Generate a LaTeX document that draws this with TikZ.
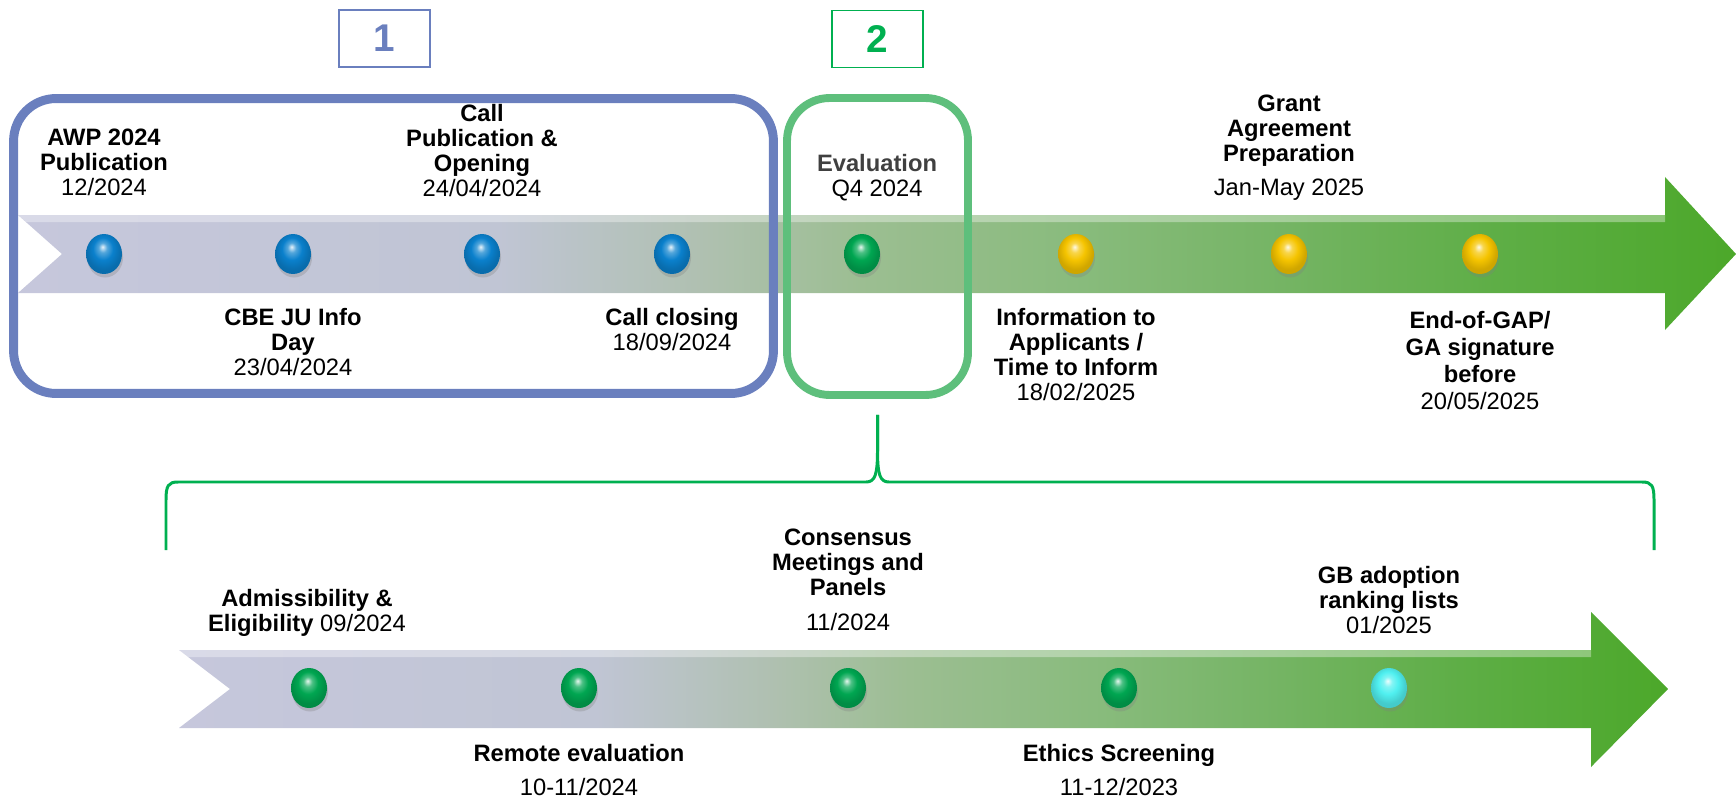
\documentclass[tikz,border=0pt]{standalone}
\usepackage{fontspec}
\setmainfont{Liberation Sans}
\usetikzlibrary{shapes.geometric,positioning,shadows}

\definecolor{phaseblue}{HTML}{6A7FBE}
\definecolor{phasegreen}{HTML}{00B050}
\definecolor{framegreen}{HTML}{5EBF7C}
\definecolor{evalgray}{HTML}{404040}
\definecolor{sha}{HTML}{C6C7DC}
\definecolor{shb}{HTML}{C0C5D4}
\definecolor{shc}{HTML}{AFC0B0}
\definecolor{shd}{HTML}{9CBE92}
\definecolor{she}{HTML}{88BB7C}
\definecolor{shf}{HTML}{74B463}
\definecolor{shg}{HTML}{5EAE46}
\definecolor{shh}{HTML}{4CA82A}
\definecolor{ballblue}{HTML}{0A80CC}
\definecolor{ballgreen}{HTML}{00A651}
\definecolor{ballyellow}{HTML}{F5C400}
\definecolor{ballcyan}{HTML}{50F0F0}

\pgfdeclarehorizontalshading{bandshade}{100bp}{color(0bp)=(sha); color(25bp)=(sha); color(39bp)=(shb); color(45bp)=(shc); color(49.5bp)=(shd); color(56bp)=(she); color(62bp)=(shf); color(68bp)=(shg); color(75bp)=(shh); color(100bp)=(shh)}

\makeatletter
\pgfdeclareradialshading[tikz@ball]{beadshade}{\pgfqpoint{-2bp}{9bp}}{color(0bp)=(tikz@ball!10!white); color(6bp)=(tikz@ball!70!white); color(14bp)=(tikz@ball); color(24bp)=(tikz@ball!85!black); color(50bp)=(tikz@ball!80!black)}
\makeatother

\newcommand{\lblfont}{\fontsize{13.5}{14.2}\selectfont\bfseries}

\tikzset{
  lbl/.style={align=center, inner sep=0pt, anchor=north, font=\lblfont},
  bead/.style={ellipse, minimum width=0.72cm, minimum height=0.8cm, inner sep=0pt,
    drop shadow={shadow xshift=0.6pt, shadow yshift=-2pt, opacity=0.3}},
  numbox/.style={draw, line width=1.1pt, minimum width=1.82cm, minimum height=1.14cm,
    font=\fontsize{22}{24}\selectfont\bfseries},
  phaseframe/.style={draw, rounded corners=0.85cm},
  brace/.style={draw=phasegreen, line width=1.7pt},
}

\begin{document}
\begin{tikzpicture}[x=0.02cm, y=-0.02cm]
    \useasboundingbox (0,0) rectangle (1736,797);

    % Timeline bands
    \shade[shading=bandshade] (18,215) -- (1665,215) -- (1665,177) -- (1736,254) -- (1665,330) -- (1665,293) -- (18,293) -- (62,254) -- cycle;
    \fill[white, opacity=0.35] (18,215) -- (1665,215) -- (1665,222) -- (26,222) -- cycle;
    \shade[shading=bandshade] (179,650) -- (1591,650) -- (1591,612) -- (1668,689) -- (1591,767) -- (1591,728) -- (179,728) -- (230,689) -- cycle;
    \fill[white, opacity=0.35] (179,650) -- (1591,650) -- (1591,657) -- (185,657) -- cycle;

    % Milestones
    \foreach \x/\c [count=\i] in {104/ballblue, 293/ballblue, 482/ballblue, 672/ballblue, 862/ballgreen, 1076/ballyellow, 1289/ballyellow, 1480/ballyellow}
        \node[bead, ball color=\c, shading=beadshade] (t\i) at (\x,254) {};
    \foreach \x/\c [count=\i] in {309/ballgreen, 579/ballgreen, 848/ballgreen, 1119/ballgreen, 1389/ballcyan}
        \node[bead, ball color=\c, shading=beadshade] (e\i) at (\x,688) {};

    % Phases
    \node[numbox, draw=phaseblue, text=phaseblue] (n1) at (384.5,38.5) {1};
    \node[numbox, draw=phasegreen, text=phasegreen] (n2) at (877.5,39) {2};
    \node[phaseframe, draw=phaseblue, line width=5.1pt, minimum width=15.2cm, minimum height=5.9cm] (phase1) at (393.5,246) {};
    \node[phaseframe, draw=framegreen, line width=4.5pt, minimum width=3.62cm, minimum height=5.94cm] (phase2) at (877.5,246.5) {};

    % Brace
    \coordinate (tip) at ([yshift=-0.32cm]phase2.south);
    \coordinate (bl) at (166,550);
    \coordinate (br) at (1654,550);
    \draw[brace] (tip) -- (877.5,450) .. controls (877.5,475) and (875,482) .. (866,482) -- (178,482) .. controls (168,482) and (166,486) .. (166,500) -- (bl);
    \draw[brace] (tip) -- (877.5,450) .. controls (877.5,475) and (880,482) .. (889,482) -- (1642,482) .. controls (1652,482) and (1654,486) .. (1654,500) -- (br);

    % Upper timeline labels
    \node[lbl] (awp) at (104,129) {AWP 2024\\Publication\\\mdseries 12/2024};
    \node[lbl] (callpub) at (482,104) {Call\\Publication \&\\Opening\\\mdseries 24/04/2024};
    \node[lbl] (eval) at (877,154) {{\color{evalgray}Evaluation}\\\mdseries Q4 2024};
    \node[lbl] (grant) at (1289,95) {Grant\\Agreement\\Preparation\\[5pt]\mdseries Jan-May 2025};
    \node[lbl] (infoday) at (293,308) {CBE JU Info\\Day\\\mdseries 23/04/2024};
    \node[lbl] (closing) at (672,308) {Call closing\\\mdseries 18/09/2024};
    \node[lbl] (inform) at (1076,308) {Information to\\Applicants /\\Time to Inform\\\mdseries 18/02/2025};
    \node[lbl, font=\fontsize{13.5}{15.3}\selectfont\bfseries] (endgap) at (1480,311) {End-of-GAP/\\GA signature\\before\\\mdseries 20/05/2025};

    % Lower timeline labels
    \node[lbl] (admiss) at (307,589) {Admissibility \&\\Eligibility \mdseries 09/2024};
    \node[lbl] (consensus) at (848,529) {Consensus\\Meetings and\\Panels\\[5.5pt]\mdseries 11/2024};
    \node[lbl] (gbadopt) at (1389,566) {GB adoption\\ranking lists\\\mdseries 01/2025};
    \node[lbl] (remote) at (579,744) {Remote evaluation\\[5pt]\mdseries 10-11/2024};
    \node[lbl] (ethics) at (1119,744) {Ethics Screening\\[5pt]\mdseries 11-12/2023};
\end{tikzpicture}
\end{document}
